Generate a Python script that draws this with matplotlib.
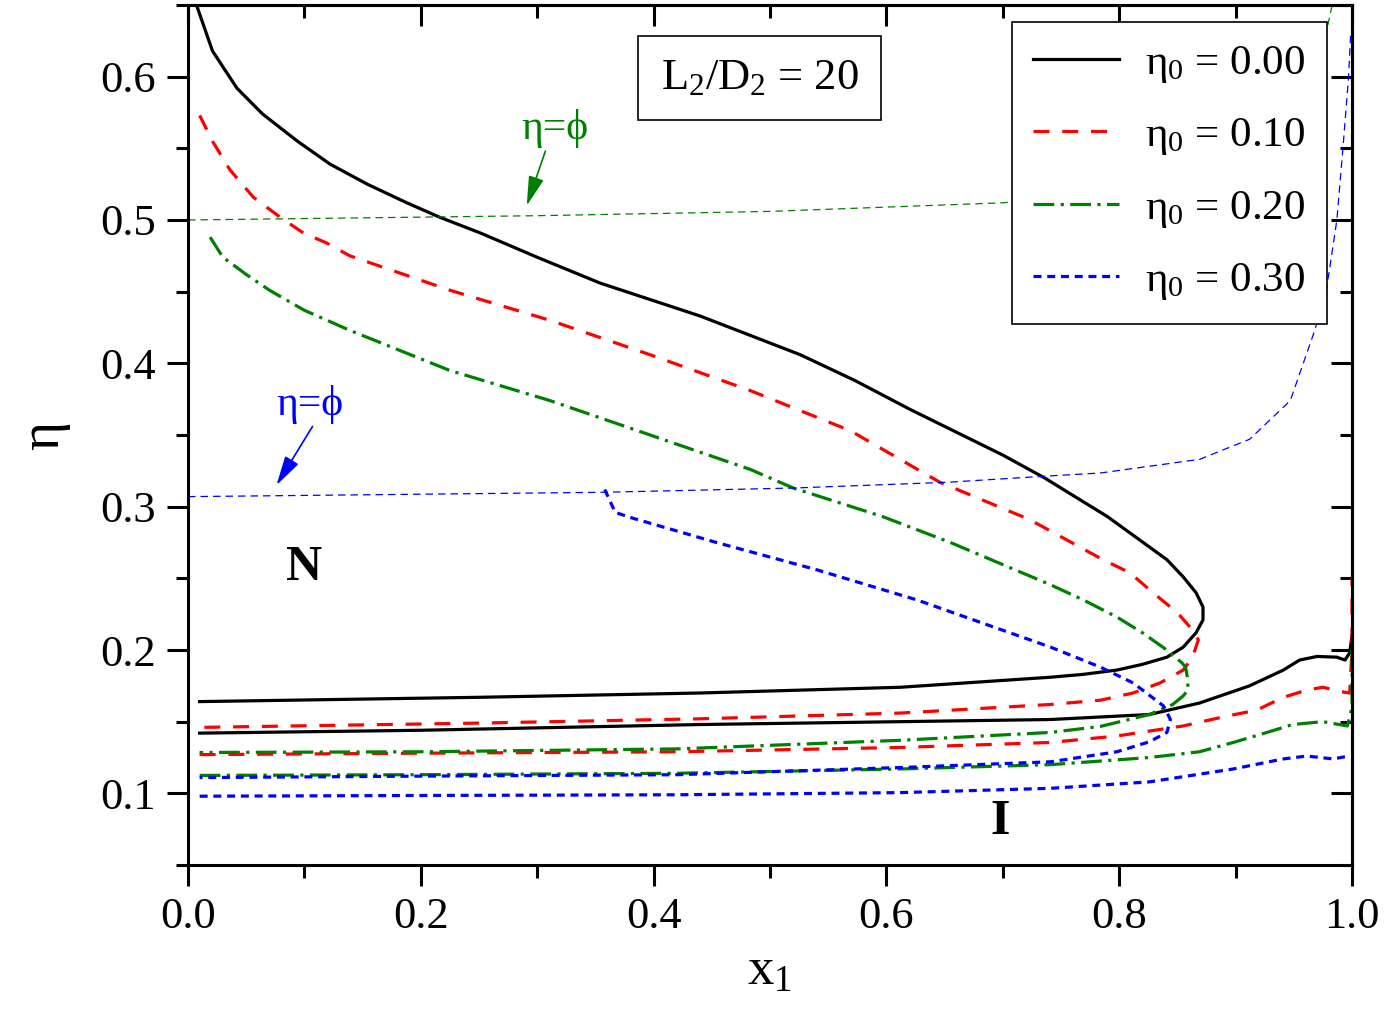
import matplotlib.pyplot as plt
from matplotlib.ticker import MultipleLocator

plt.rcParams['font.family'] = ['Liberation Serif', 'DejaVu Serif']
plt.rcParams['mathtext.fontset'] = 'custom'
plt.rcParams['mathtext.rm'] = 'Liberation Serif'
plt.rcParams['mathtext.it'] = 'Liberation Serif:italic'

# eta0 = 0.00 (solid black)
x_k1 = [0.006, 0.021, 0.042, 0.064, 0.094, 0.122, 0.154, 0.188, 0.216, 0.251, 0.300, 0.354, 0.440,
        0.526, 0.573, 0.620, 0.655, 0.700, 0.736, 0.790, 0.841, 0.855, 0.866, 0.872, 0.872, 0.866,
        0.855, 0.841, 0.820, 0.798, 0.769, 0.741, 0.612, 0.440, 0.250, 0.010]
y_k1 = [0.653, 0.618, 0.592, 0.574, 0.555, 0.539, 0.525, 0.512, 0.502, 0.491, 0.474, 0.456, 0.433,
        0.406, 0.388, 0.368, 0.354, 0.336, 0.320, 0.293, 0.263, 0.251, 0.240, 0.230, 0.221, 0.212,
        0.202, 0.195, 0.190, 0.186, 0.183, 0.181, 0.174, 0.170, 0.167, 0.164]
x_k2 = [0.010, 0.200, 0.440, 0.612, 0.741, 0.826, 0.869, 0.912, 0.941, 0.955, 0.970, 0.987, 0.994, 0.998, 1.0]
y_k2 = [0.142, 0.144, 0.148, 0.150, 0.1515, 0.155, 0.163, 0.175, 0.186, 0.193, 0.1955, 0.195, 0.193, 0.198, 0.21]

# eta0 = 0.10 (dashed red)
x_r1 = [0.010, 0.021, 0.036, 0.056, 0.079, 0.099, 0.119, 0.139, 0.225, 0.311, 0.397, 0.483, 0.569,
        0.646, 0.723, 0.786, 0.809, 0.829, 0.850, 0.863, 0.868, 0.863, 0.855, 0.835, 0.812, 0.784,
        0.741, 0.612, 0.440, 0.250, 0.010]
y_r1 = [0.573, 0.555, 0.535, 0.516, 0.502, 0.491, 0.484, 0.475, 0.451, 0.430, 0.406, 0.381, 0.353,
        0.317, 0.291, 0.263, 0.254, 0.240, 0.226, 0.214, 0.207, 0.195, 0.186, 0.177, 0.170, 0.165,
        0.162, 0.156, 0.152, 0.149, 0.146]
x_r2 = [0.010, 0.200, 0.420, 0.612, 0.741, 0.798, 0.855, 0.893, 0.918, 0.941, 0.961, 0.975, 0.990, 0.998, 1.0, 1.0]
y_r2 = [0.127, 0.128, 0.129, 0.132, 0.1355, 0.140, 0.147, 0.154, 0.158, 0.167, 0.172, 0.174, 0.171, 0.170, 0.20, 0.25]

# eta0 = 0.20 (dash-dot green)
x_g1 = [0.019, 0.030, 0.050, 0.070, 0.100, 0.139, 0.225, 0.311, 0.397, 0.483, 0.520, 0.597, 0.655,
        0.741, 0.769, 0.798, 0.820, 0.838, 0.854, 0.857, 0.859, 0.859, 0.855, 0.846, 0.826, 0.784,
        0.741, 0.612, 0.420, 0.200, 0.010]
y_g1 = [0.488, 0.474, 0.462, 0.451, 0.437, 0.423, 0.395, 0.374, 0.350, 0.326, 0.313, 0.293, 0.275,
        0.2455, 0.235, 0.223, 0.212, 0.2017, 0.191, 0.188, 0.179, 0.172, 0.168, 0.162, 0.155, 0.1467,
        0.1425, 0.137, 0.131, 0.129, 0.1285]
x_g2 = [0.010, 0.200, 0.420, 0.612, 0.741, 0.826, 0.869, 0.898, 0.927, 0.949, 0.975, 0.996, 1.0, 1.0]
y_g2 = [0.1125, 0.113, 0.114, 0.117, 0.120, 0.125, 0.129, 0.1355, 0.1425, 0.148, 0.150, 0.147, 0.16, 0.20]

# eta0 = 0.30 (dotted blue)
x_b1 = [0.358, 0.367, 0.382, 0.454, 0.540, 0.626, 0.741, 0.784, 0.812, 0.838, 0.844, 0.841, 0.826,
        0.798, 0.741, 0.612, 0.420, 0.200, 0.010]
y_b1 = [0.312, 0.296, 0.292, 0.275, 0.256, 0.235, 0.202, 0.188, 0.177, 0.161, 0.1515, 0.1425, 0.136,
        0.129, 0.122, 0.118, 0.113, 0.112, 0.111]
x_b2 = [0.010, 0.200, 0.420, 0.612, 0.741, 0.826, 0.898, 0.941, 0.961, 0.984, 0.997]
y_b2 = [0.098, 0.0985, 0.099, 0.1005, 0.1035, 0.108, 0.117, 0.124, 0.126, 0.124, 0.126]

# eta = phi lines
x_phi_g = [0.0, 0.3, 0.5, 0.7, 0.8, 0.9, 0.95, 0.975, 0.983]
y_phi_g = [0.500, 0.503, 0.506, 0.512, 0.520, 0.540, 0.570, 0.620, 0.650]
x_phi_b = [0.0, 0.354, 0.520, 0.652, 0.741, 0.784, 0.869, 0.912, 0.947, 0.968, 0.978, 0.987, 0.992, 0.997, 0.999]
y_phi_b = [0.307, 0.310, 0.313, 0.317, 0.3215, 0.3235, 0.333, 0.347, 0.374, 0.423, 0.451, 0.500, 0.548, 0.599, 0.632]

labels = [r'η$_0$ = 0.00', r'η$_0$ = 0.10', r'η$_0$ = 0.20', r'η$_0$ = 0.30']

fig = plt.figure(figsize=(13.88, 10.15), dpi=100)
ax = fig.add_axes([188 / 1388, 150 / 1015, 1164 / 1388, 860 / 1015])

lw = 2.3
ax.plot(x_k1, y_k1, color='black', lw=lw, label=labels[0])
ax.plot(x_k2, y_k2, color='black', lw=lw)
ax.plot(x_r1, y_r1, color='red', lw=lw, dashes=(5, 4), label=labels[1])
ax.plot(x_r2, y_r2, color='red', lw=lw, dashes=(5, 4))
ax.plot(x_g1, y_g1, color='green', lw=lw, dashes=(6.5, 2, 1, 2), label=labels[2])
ax.plot(x_g2, y_g2, color='green', lw=lw, dashes=(6.5, 2, 1, 2))
ax.plot(x_b1, y_b1, color='blue', lw=lw, dashes=(2.5, 1.8), label=labels[3])
ax.plot(x_b2, y_b2, color='blue', lw=lw, dashes=(2.5, 1.8))

ax.plot(x_phi_g, y_phi_g, color='green', lw=0.9, dashes=(6, 4))
ax.plot(x_phi_b, y_phi_b, color='blue', lw=0.9, dashes=(6, 4))

astyle = '-|>,head_length=0.65,head_width=0.17'
ax.text(0.315, 0.564, 'η=ϕ', color='green', fontsize=30, ha='center', va='center')
ax.annotate('', xy=(0.291, 0.510), xytext=(0.307, 0.548),
            arrowprops=dict(arrowstyle=astyle, color='green', lw=1.2, mutation_scale=28, shrinkA=0, shrinkB=0))
ax.text(0.105, 0.371, 'η=ϕ', color='blue', fontsize=30, ha='center', va='center')
ax.annotate('', xy=(0.076, 0.315), xytext=(0.107, 0.356),
            arrowprops=dict(arrowstyle=astyle, color='blue', lw=1.2, mutation_scale=28, shrinkA=0, shrinkB=0))

ax.text(0.491, 0.599, r'L$_2$/D$_2$ = 20', fontsize=32, ha='center', va='center',
        bbox=dict(boxstyle='square,pad=0.5', fc='white', ec='black', lw=1.2))
ax.text(0.10, 0.257, 'N', fontsize=36, fontweight='bold', ha='center', va='center')
ax.text(0.698, 0.080, 'I', fontsize=36, fontweight='bold', ha='center', va='center')

ax.set_xlim(0, 1.0)
ax.set_ylim(0.05, 0.65)
ax.xaxis.set_major_locator(MultipleLocator(0.2))
ax.xaxis.set_minor_locator(MultipleLocator(0.1))
ax.yaxis.set_minor_locator(MultipleLocator(0.05))
ax.set_yticks([0.1, 0.2, 0.3, 0.4, 0.5, 0.6])
ax.tick_params(which='major', direction='out', length=15, width=2.2, labelsize=32, pad=8)
ax.tick_params(which='minor', direction='out', length=9, width=2.2)
for s in ax.spines.values():
    s.set_linewidth(2.2)

top = ax.secondary_xaxis('top')
top.xaxis.set_major_locator(MultipleLocator(0.2))
top.xaxis.set_minor_locator(MultipleLocator(0.1))
top.tick_params(which='major', direction='in', length=15, width=2.2, labeltop=False)
top.tick_params(which='minor', direction='in', length=9, width=2.2)
top.spines['top'].set_linewidth(2.2)
right = ax.secondary_yaxis('right')
right.yaxis.set_major_locator(MultipleLocator(0.1))
right.yaxis.set_minor_locator(MultipleLocator(0.05))
right.tick_params(which='major', direction='in', length=15, width=2.2, labelright=False)
right.tick_params(which='minor', direction='in', length=9, width=2.2)
right.spines['right'].set_linewidth(2.2)

ax.set_xlabel(r'x$_1$', fontsize=38, labelpad=8)
ax.set_ylabel('η', fontsize=40, labelpad=22)

leg = ax.legend(loc='upper right', bbox_to_anchor=(1327 / 1388, (1015 - 22) / 1015),
                bbox_transform=fig.transFigure, borderaxespad=0, fontsize=31, frameon=True,
                fancybox=False, edgecolor='black', framealpha=1, handlelength=2.0,
                labelspacing=0.73, borderpad=0.5, handletextpad=0.6)
leg.get_frame().set_linewidth(1.2)
leg.set_zorder(5)

fig.savefig('out.png', dpi=100)
